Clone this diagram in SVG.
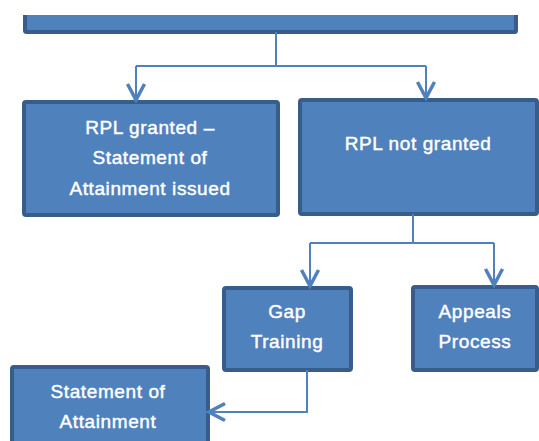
<svg xmlns="http://www.w3.org/2000/svg" width="539" height="441" viewBox="0 0 539 441">
<style>
.box{fill:#4f81bd;stroke:#385d8a;stroke-width:4;}
.lbl{font-family:"Liberation Sans",Arial,sans-serif;font-size:19px;fill:#ffffff;stroke:#ffffff;stroke-width:0.45;text-anchor:middle;letter-spacing:0.6px;}
.conn{fill:none;stroke:#4f81bd;stroke-width:2;}
</style>
<defs>
<marker id="arr" viewBox="-20 -11 23 22" refX="0" refY="0" markerWidth="23" markerHeight="22" markerUnits="userSpaceOnUse" orient="auto">
<path d="M-16,-8.5 L0,0 L-16,8.5" fill="none" stroke="#4f81bd" stroke-width="3.5"/>
</marker>
</defs>
<rect width="539" height="441" fill="#ffffff"/>
<g id="top">
<rect x="25" y="15" width="491" height="17" fill="#4f81bd"/>
<path d="M25,15 V30.5 Q25,32 26.5,32 H514.5 Q516,32 516,30.5 V15" fill="none" stroke="#385d8a" stroke-width="4"/>
</g>
<g id="granted">
<rect class="box" x="24" y="102" width="254" height="113" rx="2"/>
<text class="lbl" x="150" y="134">RPL granted –</text>
<text class="lbl" x="150" y="164">Statement of</text>
<text class="lbl" x="150" y="195">Attainment issued</text>
</g>
<g id="notgranted">
<rect class="box" x="300" y="100" width="237" height="114" rx="2"/>
<text class="lbl" x="418" y="150">RPL not granted</text>
</g>
<g id="gap">
<rect class="box" x="224" y="288" width="127" height="82" rx="2"/>
<text class="lbl" x="287" y="318">Gap</text>
<text class="lbl" x="287" y="348">Training</text>
</g>
<g id="appeals">
<rect class="box" x="413" y="287" width="124" height="83" rx="2"/>
<text class="lbl" x="475" y="318">Appeals</text>
<text class="lbl" x="475" y="348">Process</text>
</g>
<g id="statement">
<rect class="box" x="12" y="367" width="196" height="90" rx="2"/>
<text class="lbl" x="108" y="398">Statement of</text>
<text class="lbl" x="108" y="428">Attainment</text>
</g>
<g id="connectors">
<path class="conn" d="M276,32 V66"/>
<path class="conn" d="M136,66 H426"/>
<path class="conn" d="M136,66 V100" stroke-width="2.5" marker-end="url(#arr)"/>
<path class="conn" d="M426,66 V98" stroke-width="2.5" marker-end="url(#arr)"/>
<path class="conn" d="M413,214 V243"/>
<path class="conn" d="M310,243 H494"/>
<path class="conn" d="M310,243 V286" stroke-width="2.5" marker-end="url(#arr)"/>
<path class="conn" d="M494,243 V285" stroke-width="2.5" marker-end="url(#arr)"/>
<path class="conn" d="M307,370 V412 H209" marker-end="url(#arr)"/>
</g>
</svg>
